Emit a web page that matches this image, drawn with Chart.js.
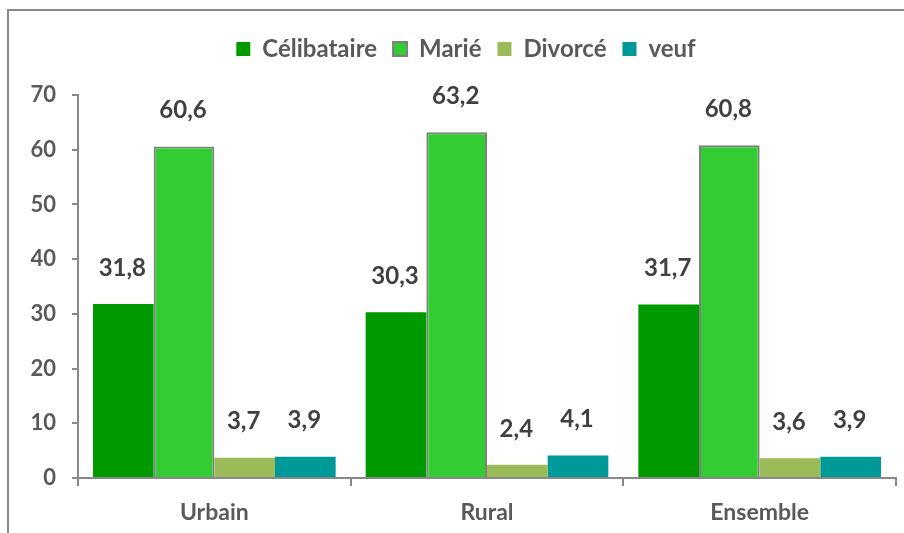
<!DOCTYPE html>
<html>
<head>
<meta charset="utf-8">
<script src="https://cdn.jsdelivr.net/npm/chart.js@4"></script>
<style>
  html, body { margin: 0; padding: 0; background: #fff; overflow: hidden; }
  #frame { position: absolute; left: 7px; top: 9px; width: 1000px; height: 1000px;
           border-top: 2px solid #888; border-left: 2px solid #888; }
  #wrap { position: absolute; left: 0; top: 0; width: 904px; height: 533px; }
</style>
</head>
<body>
<div id="frame"></div>
<div id="wrap"><canvas id="chart" width="904" height="533"></canvas></div>
<script>
// data
var categories = ['Urbain', 'Rural', 'Ensemble'];
var celibataire = [31.8, 30.3, 31.7];
var marie = [60.6, 63.2, 60.8];
var divorce = [3.7, 2.4, 3.6];
var veuf = [3.9, 4.1, 3.9];
var yTicks = [0, 10, 20, 30, 40, 50, 60, 70];

var fontFam = 'Lato, "Open Sans", sans-serif';
var grey = '#595959';

// value labels above the bars
var barLabels = {
    id: 'barLabels',
    afterDatasetsDraw: function (chart) {
        var ctx = chart.ctx;
        ctx.save();
        ctx.font = 'bold 24px ' + fontFam;
        ctx.fillStyle = '#404040';
        ctx.textAlign = 'center';
        ctx.textBaseline = 'middle';
        chart.data.datasets.forEach(function (ds, i) {
            chart.getDatasetMeta(i).data.forEach(function (bar, j) {
                var txt = ds.data[j].toFixed(1).replace('.', ',');
                ctx.fillText(txt, bar.x - 1, bar.y - 36);
            });
        });
        ctx.restore();
    }
};

// push plot area down under the legend, nudge legend right
var legendGap = {
    id: 'legendGap',
    afterInit: function (chart) {
        var fit = chart.legend.fit;
        chart.legend.fit = function () {
            fit.call(this);
            this.height += 24;
        };
    },
    afterLayout: function (chart) {
        chart.legend.left += 18;
        chart.legend.right += 18;
    }
};

var ctx = document.getElementById('chart').getContext('2d');
var myChart = new Chart(ctx, {
    type: 'bar',
    data: {
        labels: categories,
        datasets: [
            { label: 'Célibataire', data: celibataire, backgroundColor: '#009900', borderWidth: 0 },
            { label: 'Marié', data: marie, backgroundColor: '#33CC33', borderColor: '#808080', borderWidth: 2 },
            { label: 'Divorcé', data: divorce, backgroundColor: '#9BBB59', borderWidth: 0 },
            { label: 'veuf', data: veuf, backgroundColor: '#009999', borderWidth: 0 }
        ]
    },
    options: {
        responsive: false,
        animation: false,
        layout: { padding: { top: 21, right: 8, left: 0, bottom: 0 } },
        datasets: { bar: { categoryPercentage: 0.89, barPercentage: 1 } },
        plugins: {
            legend: {
                position: 'top',
                labels: {
                    boxWidth: 14, boxHeight: 14, padding: 16,
                    color: grey,
                    font: { family: fontFam, size: 24, weight: 'bold' }
                }
            },
            tooltip: { enabled: false }
        },
        scales: {
            x: {
                grid: { drawOnChartArea: false, drawTicks: true, tickLength: 8, color: '#888', lineWidth: 2 },
                border: { color: '#888', width: 2 },
                ticks: { color: grey, padding: 13, font: { family: fontFam, size: 23, weight: 'bold' } },
                afterFit: function (s) { s.height = 55; }
            },
            y: {
                min: 0, max: 70,
                afterBuildTicks: function (s) { s.ticks = yTicks.map(function (v) { return { value: v }; }); },
                grid: { drawOnChartArea: false, drawTicks: true, tickLength: 6, color: '#888', lineWidth: 2 },
                border: { color: '#888', width: 2 },
                ticks: { color: grey, padding: 16, font: { family: fontFam, size: 22, weight: 'bold' } },
                afterFit: function (s) { s.width = 78; }
            }
        }
    },
    plugins: [barLabels, legendGap]
});
</script>
</body>
</html>
